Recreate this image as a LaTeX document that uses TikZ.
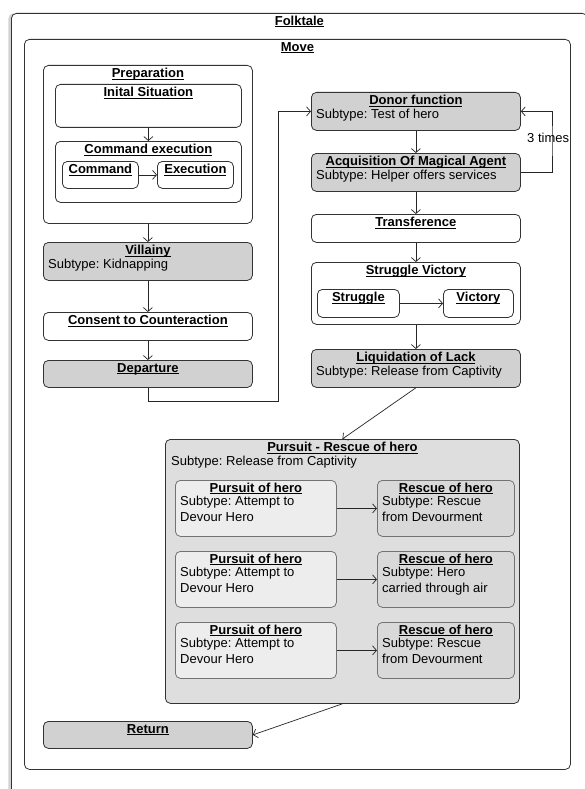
\documentclass[tikz,border=0pt]{standalone}
\usepackage{fontspec}
\setmainfont{Liberation Sans}
\usepackage{tikz}
\usetikzlibrary{arrows.meta}
\usetikzlibrary{shadows}
\frenchspacing

\newsavebox{\ttlbox}
\newcommand{\ttl}[1]{\sbox\ttlbox{\bfseries #1}\rlap{\rule[-1.6pt]{\wd\ttlbox}{0.7pt}}\usebox\ttlbox}

\begin{document}
\begin{tikzpicture}[x=1pt,y=-1pt,font=\fontsize{13}{16}\selectfont,
    box/.style={draw=black!80,line width=0.8pt,rounded corners=5pt,anchor=north west,inner sep=0pt},
    dark/.style={box,fill=black!18},
    pale/.style={box,draw=black!55,fill=black!7},
    mid/.style={box,draw=black!55,fill=black!15},
    hd/.style={anchor=north,inner sep=0pt,yshift=-3pt},
    sub/.style={anchor=north west,inner sep=0pt,align=left,xshift=5pt,yshift=-17pt},
    arr/.style={-{Straight Barb[length=4pt,width=9pt]},draw=black!85,line width=0.7pt}]
    \useasboundingbox (0,0) rectangle (584,789);
    % outer frames
    \node[box,fill=white,drop shadow={shadow xshift=-3pt,shadow yshift=0pt,opacity=.35},
      minimum width=576pt,minimum height=787pt,
      label={[hd,yshift=0.5pt]north:\ttl{Folktale}}] (folktale) at (11,13) {};
    \node[box,minimum width=546pt,minimum height=730pt,
      label={[hd]north:\ttl{Move}}] (move) at (24,39) {};
    % left column
    \node[box,minimum width=209pt,minimum height=158pt,
      label={[hd]north:\ttl{Preparation}}] (prep) at (43,65) {};
    \node[box,minimum width=186pt,minimum height=43pt,
      label={[hd]north:\ttl{Inital Situation}}] (initsit) at (55,84) {};
    \node[box,minimum width=186pt,minimum height=61pt,
      label={[hd]north:\ttl{Command execution}}] (cmdexec) at (55,141) {};
    \node[box,minimum width=76pt,minimum height=27pt,
      label={[hd]north:\ttl{Command}}] (command) at (62,161) {};
    \node[box,minimum width=76pt,minimum height=27pt,
      label={[hd]north:\ttl{Execution}}] (execution) at (157,161) {};
    \node[dark,minimum width=209pt,minimum height=38pt,
      label={[hd]north:\ttl{Villainy}},
      label={[sub]north west:Subtype: Kidnapping}] (villainy) at (43,242) {};
    \node[box,minimum width=209pt,minimum height=28pt,
      label={[hd]north:\ttl{Consent to Counteraction}}] (consent) at (43,312) {};
    \node[dark,minimum width=209pt,minimum height=27pt,
      label={[hd]north:\ttl{Departure}}] (departure) at (43,360) {};
    % right column
    \node[dark,minimum width=209pt,minimum height=38pt,
      label={[hd]north:\ttl{Donor function}},
      label={[sub]north west:Subtype: Test of hero}] (donor) at (311,92) {};
    \node[dark,minimum width=209pt,minimum height=38pt,
      label={[hd]north:\ttl{Acquisition Of Magical Agent}},
      label={[sub]north west:Subtype: Helper offers services}] (acquisition) at (311,153) {};
    \node[box,minimum width=209pt,minimum height=28pt,
      label={[hd]north:\ttl{Transference}}] (transference) at (311,214) {};
    \node[box,minimum width=209pt,minimum height=62pt,
      label={[hd]north:\ttl{Struggle Victory}}] (strugvict) at (311,262) {};
    \node[box,minimum width=82pt,minimum height=28pt,
      label={[hd]north:\ttl{Struggle}}] (struggle) at (317,289) {};
    \node[box,minimum width=70pt,minimum height=28pt,
      label={[hd]north:\ttl{Victory}}] (victory) at (443,289) {};
    \node[dark,minimum width=209pt,minimum height=38pt,
      label={[hd]north:\ttl{Liquidation of Lack}},
      label={[sub]north west:Subtype: Release from Captivity}] (liquidation) at (311,349) {};
    % pursuit and rescue
    \node[box,fill=black!13,minimum width=354pt,minimum height=264pt,
      label={[hd]north:\ttl{Pursuit - Rescue of hero}},
      label={[sub,xshift=1pt]north west:Subtype: Release from Captivity}] (pursuitrescue) at (165,439) {};
    \foreach \row/\y/\what in {A/480/Rescue\\from Devourment,B/551/Hero\\carried through air,C/622/Rescue\\from Devourment} {
      \node[pale,minimum width=161pt,minimum height=56pt,
        label={[hd,yshift=0.5pt]north:\ttl{Pursuit of hero}},
        label={[sub,yshift=1.5pt]north west:Subtype: Attempt to\\Devour Hero}] (pursuit\row) at (175,\y) {};
      \node[mid,minimum width=137pt,minimum height=56pt,
        label={[hd,yshift=0.5pt]north:\ttl{Rescue of hero}},
        label={[sub,yshift=1.5pt]north west:Subtype: \what}] (rescue\row) at (377,\y) {};
      \draw[arr] (pursuit\row) -- (rescue\row);
    }
    \node[dark,minimum width=209pt,minimum height=27pt,
      label={[hd]north:\ttl{Return}}] (ret) at (43,721) {};
    % connectors
    \coordinate (depbend) at (278,401);
    \coordinate (loopbend) at (552,140);
    \draw[arr] (initsit) -- (cmdexec);
    \draw[arr] (command) -- (execution);
    \draw[arr] (prep) -- (villainy);
    \draw[arr] (villainy) -- (consent);
    \draw[arr] (consent) -- (departure);
    \draw[arr] (departure.south) |- (depbend) |- (donor.west);
    \draw[arr] (donor) -- (acquisition);
    \draw[arr] (acquisition.east) -| (loopbend) |- (donor.east);
    \node[anchor=west,inner sep=0pt] (times) at (527,138) {3 times};
    \draw[arr] (acquisition) -- (transference);
    \draw[arr] (transference) -- (strugvict);
    \draw[arr] (struggle) -- (victory);
    \draw[arr] (strugvict) -- (liquidation);
    \draw[arr] (liquidation.south) -- (pursuitrescue.north);
    \draw[arr] (pursuitrescue.south) -- (ret.east);
\end{tikzpicture}
\end{document}
